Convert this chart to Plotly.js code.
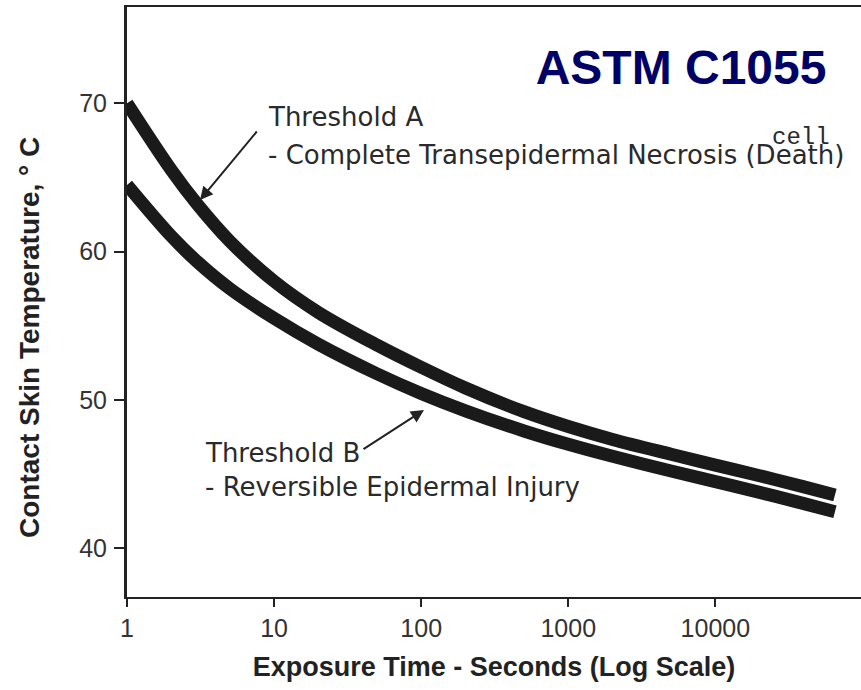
<!DOCTYPE html>
<html>
<head>
<meta charset="utf-8">
<script src="https://cdn.plot.ly/plotly-3.0.1.min.js"></script>
<style>
  html, body { margin: 0; padding: 0; background: #fff; }
  #chart { width: 861px; height: 690px; }
</style>
</head>
<body>
<div id="chart"></div>
<script>
// Exposure time (s), log scale
const exposureTime = [1, 2, 3, 5, 10, 20, 50, 100, 200, 500, 1000, 2000, 5000, 10000, 20000, 40000, 65000];
// Threshold A - Complete Transepidermal Necrosis (°C)
const thresholdA = [70.0, 65.5, 63.2, 60.7, 58.0, 55.9, 53.7, 52.2, 50.8, 49.2, 48.2, 47.33, 46.33, 45.6, 44.88, 44.13, 43.58];
// Threshold B - Reversible Epidermal Injury (°C)
const thresholdB = [64.5, 61.04, 59.32, 57.5, 55.5, 53.75, 51.76, 50.43, 49.26, 47.9, 47.0, 46.19, 45.2, 44.48, 43.76, 43.0, 42.45];

const xTickVals = [1, 10, 100, 1000, 10000];
const xTickText = ["1", "10", "100", "1000", "10000"];
const yTickVals = [40, 50, 60, 70];
const yTickText = ["40", "50", "60", "70"];

const labelA1 = "Threshold A";
const labelA2 = "- Complete Transepidermal Necrosis (Death)";
const labelB1 = "Threshold B";
const labelB2 = "- Reversible Epidermal Injury";
const cellNote = "cell";

const lineStyle = {color: "#1a1a1a", width: 13, shape: "spline", smoothing: 1};

const traces = [
  {x: exposureTime, y: thresholdA, mode: "lines", line: lineStyle, name: "Threshold A", hoverinfo: "x+y"},
  {x: exposureTime, y: thresholdB, mode: "lines", line: lineStyle, name: "Threshold B", hoverinfo: "x+y"}
];

const txtFont = {family: "DejaVu Sans, Liberation Sans, sans-serif", size: 26, color: "#2a2a2a"};

const layout = {
  width: 861, height: 690,
  margin: {l: 127, r: 0, t: 7, b: 93, pad: 0},
  paper_bgcolor: "#ffffff", plot_bgcolor: "#ffffff",
  showlegend: false,
  title: {
    text: "ASTM C1055",
    font: {family: "Liberation Sans, Arial, sans-serif", size: 48, color: "#000066", weight: "bold"},
    x: 0.791, y: 0.903, xanchor: "center", yanchor: "middle", xref: "container", yref: "container"
  },
  xaxis: {
    type: "log", range: [0, 4.99],
    tickvals: xTickVals, ticktext: xTickText,
    ticks: "outside", ticklen: 8, tickwidth: 2, tickcolor: "#222",
    ticklabelstandoff: 0,
    showline: true, linecolor: "#222", linewidth: 2, mirror: true,
    showgrid: false, zeroline: false,
    tickfont: {family: "Liberation Sans, Arial, sans-serif", size: 25, color: "#333"},
    title: {text: "Exposure Time - Seconds (Log Scale)", standoff: 16,
            font: {family: "Liberation Sans, Arial, sans-serif", size: 27, color: "#222", weight: "bold"}}
  },
  yaxis: {
    range: [36.7, 76.5],
    tickvals: yTickVals, ticktext: yTickText,
    ticks: "outside", ticklen: 10, tickwidth: 2, tickcolor: "#222",
    ticklabelstandoff: 2,
    showline: true, linecolor: "#222", linewidth: 3, mirror: false,
    showgrid: false, zeroline: false,
    tickfont: {family: "Liberation Sans, Arial, sans-serif", size: 25, color: "#333"}
  },
  annotations: [
    {xref: "paper", yref: "paper", x: -0.1322, y: 0.4407, textangle: -90, showarrow: false,
     text: "Contact Skin Temperature, ° C", xanchor: "center", yanchor: "middle",
     font: {family: "Liberation Sans, Arial, sans-serif", size: 28, color: "#222", weight: "bold"}},
    {xref: "paper", yref: "paper", x: 0.1894, y: 0.8136, text: labelA1, showarrow: false,
     xanchor: "left", yanchor: "middle", font: txtFont},
    {xref: "paper", yref: "paper", x: 0.1894, y: 0.749, text: labelA2, showarrow: false,
     xanchor: "left", yanchor: "middle", font: txtFont},
    {xref: "paper", yref: "paper", x: 0.8760, y: 0.7780, text: cellNote, showarrow: false,
     xanchor: "left", yanchor: "middle",
     font: {family: "Liberation Mono, Courier New, monospace", size: 24, color: "#2a2a2a"}},
    {xref: "paper", yref: "paper", x: 0.1035, y: 0.244, text: labelB1, showarrow: false,
     xanchor: "left", yanchor: "middle", font: txtFont},
    {xref: "paper", yref: "paper", x: 0.1035, y: 0.1864, text: labelB2, showarrow: false,
     xanchor: "left", yanchor: "middle", font: txtFont},
    {xref: "paper", yref: "paper", x: 0.0995, y: 0.6729, text: "", showarrow: true,
     ax: 58, ay: -70, arrowhead: 2, arrowsize: 1.3, arrowwidth: 2, arrowcolor: "#222", standoff: 0, startstandoff: 0},
    {xref: "paper", yref: "paper", x: 0.4046, y: 0.3169, text: "", showarrow: true,
     ax: -62, ay: 40, arrowhead: 2, arrowsize: 1.3, arrowwidth: 2, arrowcolor: "#222", standoff: 0, startstandoff: 0}
  ]
};

Plotly.newPlot("chart", traces, layout, {displayModeBar: false, responsive: false});
</script>
</body>
</html>
